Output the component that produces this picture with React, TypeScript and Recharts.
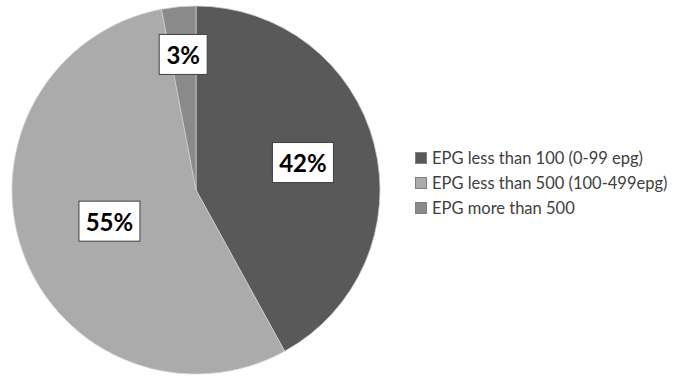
import { Cell, Legend, Pie, PieChart } from "recharts";

const categories = [
	"EPG less than 100 (0-99 epg)",
	"EPG less than 500 (100-499epg)",
	"EPG more than 500",
];
const percentages = [42, 55, 3];
const sliceColors = ["#595959", "#ababab", "#8a8a8a"];

// how far out each label box sits (fraction of the radius)
const labelRadius = [0.6, 0.5, 0.74];

const chartData = categories.map((name, i) => ({
	name,
	value: percentages[i],
}));

const renderLabel = (props: any) => {
	const { cx, cy, midAngle, outerRadius, index, value } = props;
	const RAD = Math.PI / 180;
	const r = outerRadius * labelRadius[index];
	const x = cx + r * Math.cos(-midAngle * RAD);
	const y = cy + r * Math.sin(-midAngle * RAD);
	const text = `${value}%`;
	const w = text.length * 13 + 22;
	const h = 40;
	return (
		<g>
			<rect
				x={x - w / 2}
				y={y - h / 2}
				width={w}
				height={h}
				fill="#ffffff"
				stroke="#404040"
				strokeWidth={1}
			/>
			<text
				x={x}
				y={y}
				textAnchor="middle"
				dominantBaseline="central"
				fontFamily="Lato, sans-serif"
				fontWeight="bold"
				fontSize={24}
				fill="#000000"
			>
				{text}
			</text>
		</g>
	);
};

const renderLegend = () => (
	<div
		style={{
			fontFamily: "Lato, sans-serif",
			fontSize: 16.5,
			lineHeight: "25px",
			color: "#404040",
			whiteSpace: "nowrap",
		}}
	>
		{categories.map((name, i) => (
			<div
				key={name}
				style={{ display: "flex", alignItems: "center", height: 25 }}
			>
				<span
					style={{
						display: "inline-block",
						flex: "none",
						width: 12,
						height: 12,
						background: sliceColors[i],
						border: "1px solid #7f7f7f",
						boxSizing: "border-box",
						marginRight: 5,
					}}
				/>
				{name}
			</div>
		))}
	</div>
);

const App = () => {
	return (
		<div style={{ position: "absolute", left: 0, top: 0, background: "#fff" }}>
			<PieChart width={673} height={377} margin={{ top: 0, right: 0, bottom: 0, left: 0 }}>
				<Pie
					data={chartData}
					dataKey="value"
					nameKey="name"
					cx={196}
					cy={190}
					outerRadius={184}
					startAngle={90}
					endAngle={-270}
					label={renderLabel}
					labelLine={false}
					stroke="#d0d0d0"
					strokeWidth={0.75}
					isAnimationActive={false}
				>
					{chartData.map((d, i) => (
						<Cell key={d.name} fill={sliceColors[i]} />
					))}
				</Pie>
				<Legend
					layout="vertical"
					verticalAlign="middle"
					align="right"
					content={renderLegend}
					wrapperStyle={{ left: 415, top: 145.5, width: 258, right: "auto" }}
				/>
			</PieChart>
		</div>
	);
};

export default App;
